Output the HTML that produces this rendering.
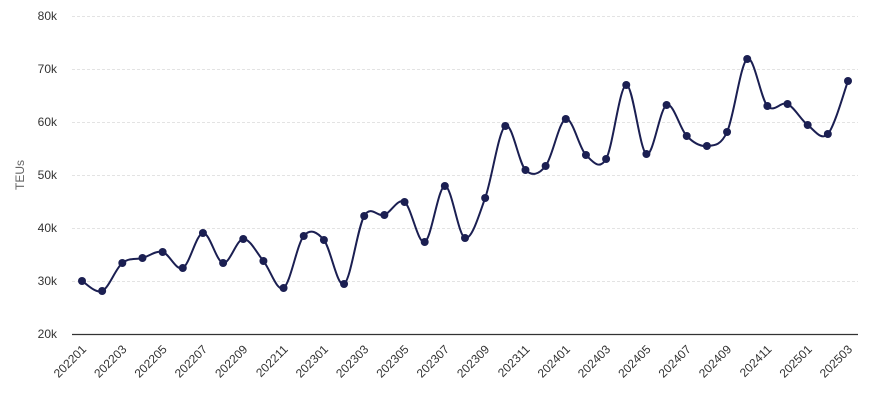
<!DOCTYPE html>
<html><head><meta charset="utf-8"><style>
body{margin:0;background:#fff;}
svg{display:block;font-family:"Liberation Sans",sans-serif;}
</style></head><body>
<svg id="s" width="870" height="418" viewBox="0 0 870 418" xmlns="http://www.w3.org/2000/svg">
<g stroke="#e3e3e3" stroke-dasharray="3,2" stroke-width="1">
<line x1="72" x2="858" y1="16.5" y2="16.5"/><line x1="72" x2="858" y1="69.5" y2="69.5"/>
<line x1="72" x2="858" y1="122.5" y2="122.5"/><line x1="72" x2="858" y1="175.5" y2="175.5"/>
<line x1="72" x2="858" y1="228.5" y2="228.5"/><line x1="72" x2="858" y1="281.5" y2="281.5"/>
</g>
<line x1="72" x2="858" y1="334.5" y2="334.5" stroke="#333" stroke-width="1.3"/>
<g font-size="12" fill="#333" text-anchor="end">
<text x="57" y="20">80k</text><text x="57" y="73">70k</text><text x="57" y="126">60k</text>
<text x="57" y="179">50k</text><text x="57" y="232">40k</text><text x="57" y="285">30k</text><text x="57" y="338">20k</text>
</g>
<text transform="translate(24,175) rotate(-90)" text-anchor="middle" font-size="12" fill="#666">TEUs</text>
<g id="xl" font-size="12" fill="#333" text-anchor="end"></g>
<path id="p" fill="none" stroke="#1b1f52" stroke-width="2"/>
<g id="d" fill="#1b1f52"></g>
</svg>
<script>
var ys=[281,291,263,258,252,268,233,263,239,261,288,236,240,284,216,215,202,242,186,238,198,126,170,166,119,155,159,85,154,105,136,146,132,59,106,104,125,134,81];
var pts=ys.map(function(y,i){return [82+i*(848-82)/38,y];});
var d="M"+pts[0][0]+","+pts[0][1];
for(var i=0;i<pts.length-1;i++){
var p0=pts[i-1]||pts[i],p1=pts[i],p2=pts[i+1],p3=pts[i+2]||p2;
var c1=[p1[0]+(p2[0]-p0[0])/6,p1[1]+(p2[1]-p0[1])/6],c2=[p2[0]-(p3[0]-p1[0])/6,p2[1]-(p3[1]-p1[1])/6];
d+="C"+c1+" "+c2+" "+p2;}
document.getElementById("p").setAttribute("d",d);
var ns="http://www.w3.org/2000/svg",g=document.getElementById("d"),xl=document.getElementById("xl");
pts.forEach(function(p,i){var c=document.createElementNS(ns,"circle");c.setAttribute("cx",p[0]);c.setAttribute("cy",p[1]);c.setAttribute("r",4);g.appendChild(c);
if(i%2==0){var m=i,yr=2022+Math.floor(m/12),mo=m%12+1;var t=document.createElementNS(ns,"text");
t.setAttribute("transform","translate("+(p[0]+5)+",350) rotate(-45)");t.textContent=yr+(mo<10?"0":"")+mo;xl.appendChild(t);}});
</script>
</body></html>
